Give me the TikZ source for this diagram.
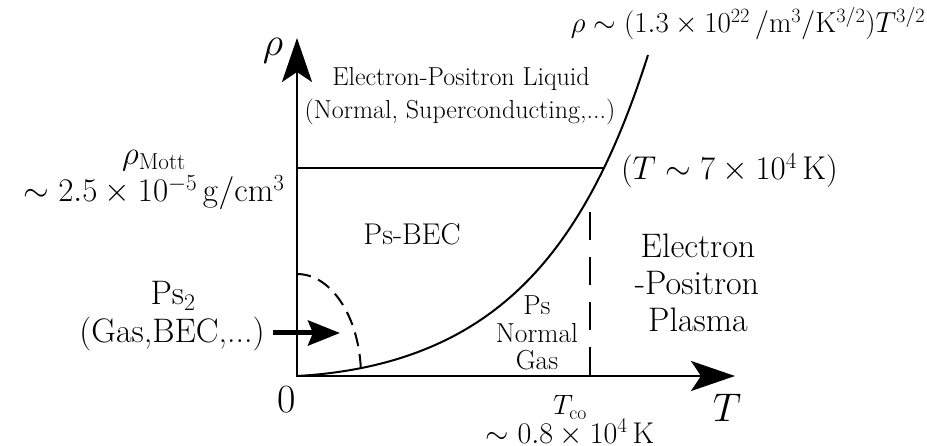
\RequirePackage{fix-cm}
\documentclass[tikz,border=0pt]{standalone}
\usetikzlibrary{arrows.meta}
\newcommand{\fsz}[1]{\fontsize{#1}{#1}\selectfont}
\tikzset{
  lbl/.style={inner sep=0pt, outer sep=0pt, anchor=base},
  axes/.style={line width=2.6pt, line join=miter,
    {Stealth[length=44pt,width=30pt,inset=10pt]}-{Stealth[length=44pt,width=30pt,inset=10pt]}},
  curveline/.style={line width=2pt},
  mottline/.style={line width=2.4pt},
  dashline/.style={line width=2pt, dash pattern=on 28pt off 17pt},
  dasharc/.style={line width=2pt, dash pattern=on 14pt off 8pt},
  bigarrow/.style={line width=5pt, -{Stealth[length=32pt,width=25pt,inset=5pt]}}
}
\begin{document}
\begin{tikzpicture}[x=1pt,y=-1pt]
\useasboundingbox (0,0) rectangle (927,446);
% axes
\coordinate (O) at (297,376);
\coordinate (Ytip) at (297,38);
\coordinate (Xtip) at (735,376);
\draw[axes] (Ytip) -- (O) -- (Xtip);
% Mott line
\coordinate (M0) at (297,168);
\coordinate (M1) at (605,168);
\draw[mottline] (M0) -- (M1);
% curve
\draw[curveline, shift={(O)}] plot[domain=0:351, samples=120]
  (\x, {-(4.85*(exp(\x/90)-1) + 7*(\x/100)*(\x/100))});
% T_co dashed line
\coordinate (Ctop) at (590,212);
\coordinate (Tco) at (590,376);
\draw[dashline] (Ctop) -- (Tco);
% Ps2 dashed boundary
\coordinate (Arc0) at (297,274);
\draw[dasharc] (Arc0) arc[start angle=-90, end angle=-4.5, x radius=64, y radius=102];
% arrow
\coordinate (A0) at (273,333);
\coordinate (A1) at (340,333);
\draw[bigarrow] (A0) -- (A1);
% labels
\node[lbl] (formula) at (748,33) {\fsz{29}$\rho\sim(1.3\times10^{22}\,/\mathrm{m}^3/\mathrm{K}^{3/2})T^{3/2}$};
\node[lbl] (liq1) at (461,86) {\fsz{26}Electron-Positron Liquid};
\node[lbl] (liq2) at (460,119) {\fsz{26}(Normal, Superconducting,...)};
\node[lbl] (mott1) at (154,165) {\fsz{33}$\rho_{\mathrm{Mott}}$};
\node[lbl] (mott2) at (154,202) {\fsz{33}$\sim2.5\times10^{-5}\,\mathrm{g/cm^3}$};
\node[lbl, anchor=base west] (t7) at (621,180) {\fsz{33}$(T\sim7\times10^4\,\mathrm{K})$};
\node[lbl] (bec) at (412,245) {\fsz{30}Ps-BEC};
\node[lbl] (pl1) at (698,258) {\fsz{34}Electron};
\node[lbl] (pl2) at (697,295) {\fsz{34}-Positron};
\node[lbl] (pl3) at (698,332) {\fsz{34}Plasma};
\node[lbl] (ng1) at (537,315) {\fsz{27.5}Ps};
\node[lbl] (ng2) at (537,343) {\fsz{27.5}Normal};
\node[lbl] (ng3) at (537,370) {\fsz{27.5}Gas};
\node[lbl] (ps2a) at (173,305) {\fsz{34}Ps$_2$};
\node[lbl] (ps2b) at (172,343) {\fsz{34}(Gas,BEC,...)};
\node[lbl] (zero) at (287,413) {\fsz{40}0};
\node[lbl] (Tlab) at (727,421) {\fsz{40}$T$};
\node[inner sep=0pt] (rholab) at (273,51) {\fsz{40}$\rho$};
\node[lbl] (tco1) at (570,415) {\fsz{28}$T_{\mathrm{co}}$};
\node[lbl] (tco2) at (570,443) {\fsz{30}$\sim0.8\times10^4\,\mathrm{K}$};
\end{tikzpicture}
\end{document}
